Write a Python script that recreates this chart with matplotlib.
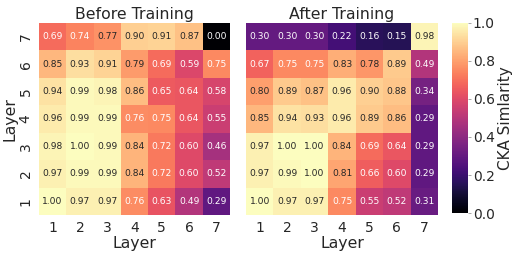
import matplotlib
matplotlib.use("Agg")
import matplotlib.pyplot as plt
import seaborn as sns
import numpy as np

# layers shown top to bottom: 7 ... 1
layers = [1, 2, 3, 4, 5, 6, 7]
row_labels = [7, 6, 5, 4, 3, 2, 1]

before = [
    [0.69, 0.74, 0.77, 0.90, 0.91, 0.87, 0.00],
    [0.85, 0.93, 0.91, 0.79, 0.69, 0.59, 0.75],
    [0.94, 0.99, 0.98, 0.86, 0.65, 0.64, 0.58],
    [0.96, 0.99, 0.99, 0.76, 0.75, 0.64, 0.55],
    [0.98, 1.00, 0.99, 0.84, 0.72, 0.60, 0.46],
    [0.97, 0.99, 0.99, 0.84, 0.72, 0.60, 0.52],
    [1.00, 0.97, 0.97, 0.76, 0.63, 0.49, 0.29],
]

after = [
    [0.30, 0.30, 0.30, 0.22, 0.16, 0.15, 0.98],
    [0.67, 0.75, 0.75, 0.83, 0.78, 0.89, 0.49],
    [0.80, 0.89, 0.87, 0.96, 0.90, 0.88, 0.34],
    [0.85, 0.94, 0.93, 0.96, 0.89, 0.86, 0.29],
    [0.97, 1.00, 1.00, 0.84, 0.69, 0.64, 0.29],
    [0.97, 0.99, 1.00, 0.81, 0.66, 0.60, 0.29],
    [1.00, 0.97, 0.97, 0.75, 0.55, 0.52, 0.31],
]

sns.set_style("white")
plt.rcParams['font.family'] = ['DejaVu Sans']
plt.rcParams['text.color'] = '#262626'
plt.rcParams['axes.labelcolor'] = '#262626'
plt.rcParams['xtick.color'] = '#262626'
plt.rcParams['ytick.color'] = '#262626'

fig = plt.figure(figsize=(5.15, 2.58), dpi=100)
ax1 = fig.add_axes([0.0757, 0.1667, 0.3709, 0.7442])
ax2 = fig.add_axes([0.4777, 0.1667, 0.3728, 0.7442])
cax = fig.add_axes([0.8777, 0.1744, 0.031, 0.7365])

for ax, data, title in [(ax1, before, "Before Training"), (ax2, after, "After Training")]:
    sns.heatmap(np.array(data), ax=ax, cmap="magma", vmin=0, vmax=1,
                annot=True, fmt=".2f", annot_kws={"size": 6.6},
                xticklabels=layers, yticklabels=row_labels,
                cbar=(ax is ax2), cbar_ax=cax if ax is ax2 else None)
    ax.set_title(title, fontsize=11.3, pad=3)
    ax.set_xlabel("Layer", fontsize=11.3, labelpad=1)
    ax.tick_params(axis='x', length=0, labelsize=10, pad=4)
    ax.tick_params(axis='y', length=2.5, width=0.6, labelsize=10, pad=2,
                   color='#999999')

ax1.set_ylabel("Layer", fontsize=11.3, labelpad=1)
for t in ax1.get_yticklabels():
    t.set_rotation(90)
    t.set_va('center')
ax2.set_yticklabels([])

cax.tick_params(labelsize=10, length=2.5, width=0.6, pad=1, color='#999999')
cax.set_yticks([0.0, 0.2, 0.4, 0.6, 0.8, 1.0])
cax.set_yticklabels(["0.0", "0.2", "0.4", "0.6", "0.8", "1.0"])
cax.set_ylabel("CKA Simlarity", fontsize=11, labelpad=2)

fig.savefig("out.png", dpi=100)
